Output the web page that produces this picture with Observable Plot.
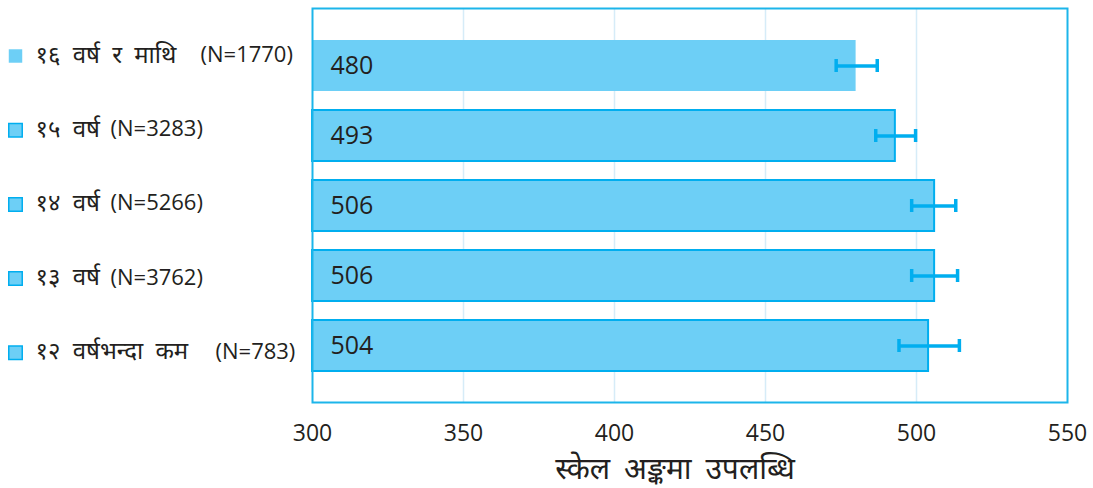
<!DOCTYPE html>
<html>
<head>
<meta charset="utf-8">
<script src="https://cdn.jsdelivr.net/npm/d3@7"></script>
<script src="https://cdn.jsdelivr.net/npm/@observablehq/plot@0.6"></script>
<style>
  html, body { margin: 0; padding: 0; background: #fff; }
  #chart svg { display: block; }
</style>
</head>
<body>
<div id="chart"></div>
<script>
const groups = ["१६ वर्ष र माथि", "१५ वर्ष", "१४ वर्ष", "१३ वर्ष", "१२ वर्षभन्दा कम"];
const counts = ["(N=1770)", "(N=3283)", "(N=5266)", "(N=3762)", "(N=783)"];
const scores = [480, 493, 506, 506, 504];
const means = [480.2, 493.1, 505.7, 506.0, 504.2];
const errors = [6.8, 6.6, 7.3, 7.6, 10.0];
const xTicks = [300, 350, 400, 450, 500, 550];
const xTitle = "स्केल अङ्कमा उपलब्धि";

const rows = groups.map((g, i) => ({
  group: g,
  count: counts[i],
  score: scores[i],
  mean: means[i],
  lo: means[i] - errors[i],
  hi: means[i] + errors[i],
  outlined: i > 0
}));

const FILL = "#6dcff6";
const BLUE = "#00aeef";
const INK = "#231f20";
const font = "'Open Sans', 'Noto Sans', sans-serif";

// layout: x (page pixels) where each "(N=…)" starts
const countX = [200, 110, 110, 110, 215];

const labelMarks = rows.map((r, i) => [
  Plot.dot([r], {
    y: "group", frameAnchor: "left", dx: -297, dy: -10 + 4.2 * i,
    symbol: "square", r: 7.6,
    fill: FILL, stroke: r.outlined ? BLUE : "none", strokeWidth: 1.5
  }),
  Plot.text([r], {
    y: "group", text: "group", frameAnchor: "left", dx: -277, dy: -11 + 4.2 * i,
    textAnchor: "start", fontSize: 24, fill: INK, fontFamily: font
  }),
  Plot.text([r], {
    y: "group", text: "count", frameAnchor: "left", dx: countX[i] - 312, dy: -11 + 4.2 * i,
    textAnchor: "start", fontSize: 22, fill: INK, fontFamily: font
  })
]);

const chart = Plot.plot({
  width: 1093,
  height: 488,
  marginLeft: 312,
  marginRight: 26,
  marginTop: 8,
  marginBottom: 86,
  style: { fontFamily: font, background: "#fff" },
  x: { domain: [300, 550], axis: null },
  y: { domain: groups, axis: null, paddingInner: 0.278, paddingOuter: 0.43 },
  marks: [
    Plot.gridX([350, 400, 450, 500], { stroke: "#d6ecf8", strokeOpacity: 1, strokeWidth: 1.5 }),
    Plot.barX(rows, {
      y: "group", x1: 300, x2: "score",
      fill: FILL,
      stroke: d => d.outlined ? BLUE : "none",
      strokeWidth: 2
    }),
    Plot.frame({ stroke: "#1cb5ea", strokeWidth: 2 }),
    Plot.ruleY(rows, { y: "group", x1: "lo", x2: "hi", stroke: BLUE, strokeWidth: 3.5 }),
    Plot.tickX(rows, { y: "group", x: "lo", stroke: BLUE, strokeWidth: 3.5, insetTop: 19, insetBottom: 19 }),
    Plot.tickX(rows, { y: "group", x: "hi", stroke: BLUE, strokeWidth: 3.5, insetTop: 19, insetBottom: 19 }),
    Plot.text(rows, {
      y: "group", x: 300, text: d => String(d.score), dx: 18, dy: 0,
      textAnchor: "start", fontSize: 25, fill: INK, fontFamily: font
    }),
    Plot.axisX(xTicks, {
      tickSize: 0, tickPadding: 22, fontSize: 23, fill: INK,
      fontFamily: font, label: null
    }),
    Plot.text([xTitle], {
      frameAnchor: "bottom", dx: -15, dy: 76, fontSize: 30,
      fill: INK, fontFamily: font
    }),
    ...labelMarks.flat()
  ]
});

// wider word gaps for Devanagari text, as in the reference typeface
d3.select(chart).selectAll("text")
  .filter(function () { return /[\u0900-\u097F]/.test(this.textContent); })
  .style("word-spacing", "6px");

document.getElementById("chart").appendChild(chart);
</script>
</body>
</html>
